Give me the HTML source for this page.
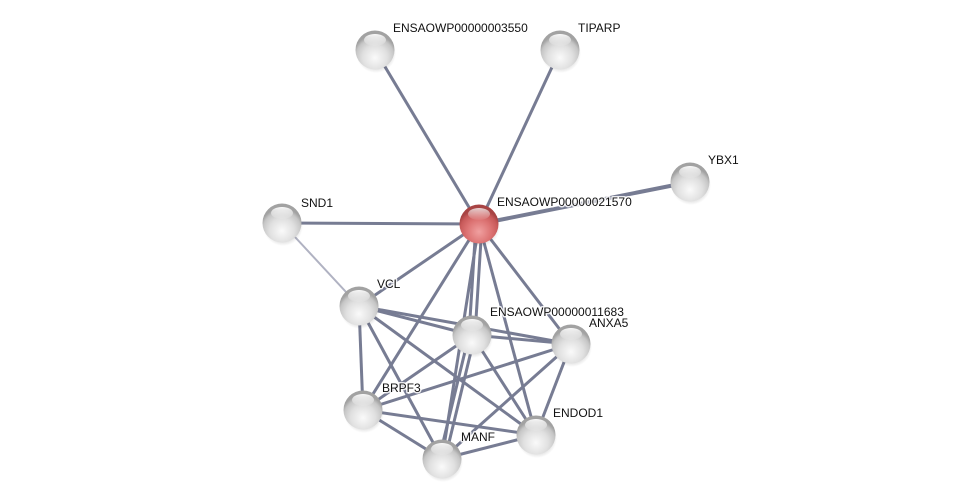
<!DOCTYPE html>
<html><head><meta charset="utf-8"><style>
html,body{margin:0;padding:0;background:#fff;}
svg{display:block;}
text{font-family:"Liberation Sans",Arial,sans-serif;font-size:12px;fill:#111;stroke:#fff;stroke-width:3px;stroke-opacity:0.85;paint-order:stroke;stroke-linejoin:round;}
</style></head><body>
<svg width="976" height="504" viewBox="0 0 976 504" xmlns="http://www.w3.org/2000/svg">
<defs>
<radialGradient id="g" cx="50%" cy="70%" r="58%">
<stop offset="0%" stop-color="#fafafa"/>
<stop offset="55%" stop-color="#e0e0e0"/>
<stop offset="85%" stop-color="#c6c6c6"/>
<stop offset="100%" stop-color="#a2a2a2"/>
</radialGradient>
<radialGradient id="r" cx="50%" cy="70%" r="58%">
<stop offset="0%" stop-color="#f0a0a0"/>
<stop offset="55%" stop-color="#dc7272"/>
<stop offset="85%" stop-color="#c85a5a"/>
<stop offset="100%" stop-color="#a84444"/>
</radialGradient>
<linearGradient id="h" x1="0" y1="0" x2="0" y2="1">
<stop offset="0%" stop-color="#fff" stop-opacity="0.95"/>
<stop offset="100%" stop-color="#fff" stop-opacity="0.05"/>
</linearGradient>
<radialGradient id="sh" cx="50%" cy="50%" r="50%">
<stop offset="70%" stop-color="#000" stop-opacity="0.15"/>
<stop offset="100%" stop-color="#000" stop-opacity="0"/>
</radialGradient>
</defs>
<g stroke="#777c93" stroke-width="3" stroke-linecap="butt">
<line x1="479" y1="224" x2="375" y2="50"/>
<line x1="479" y1="224" x2="560" y2="50"/>
<line x1="479" y1="224" x2="690" y2="182" stroke-width="4"/>
<line x1="479" y1="224" x2="282" y2="223"/>
<line x1="479" y1="224" x2="359" y2="306"/>
<line x1="476" y1="224" x2="469" y2="335"/>
<line x1="482" y1="224" x2="475" y2="335"/>
<line x1="479" y1="224" x2="571" y2="344"/>
<line x1="479" y1="224" x2="363" y2="410"/>
<line x1="479" y1="224" x2="536" y2="435"/>
<line x1="479" y1="224" x2="442" y2="459"/>
<line x1="359" y1="306" x2="472" y2="335"/>
<line x1="359" y1="306" x2="571" y2="344"/>
<line x1="359" y1="306" x2="363" y2="410"/>
<line x1="359" y1="306" x2="442" y2="459"/>
<line x1="359" y1="306" x2="536" y2="435"/>
<line x1="472" y1="335" x2="571" y2="344"/>
<line x1="472" y1="335" x2="363" y2="410"/>
<line x1="469" y1="335" x2="439" y2="459"/>
<line x1="475" y1="335" x2="445" y2="459"/>
<line x1="472" y1="335" x2="536" y2="435"/>
<line x1="571" y1="344" x2="363" y2="410"/>
<line x1="571" y1="344" x2="442" y2="459"/>
<line x1="571" y1="344" x2="536" y2="435"/>
<line x1="363" y1="410" x2="442" y2="459"/>
<line x1="363" y1="410" x2="536" y2="435"/>
<line x1="442" y1="459" x2="536" y2="435"/>
</g>
<line x1="282" y1="223" x2="359" y2="306" stroke="#b0b2c2" stroke-width="2"/>
<g>
<g transform="translate(375,50)"><circle cx="1" cy="3" r="20" fill="url(#sh)"/><circle r="19.5" fill="url(#g)"/><ellipse cx="0" cy="-10" rx="11" ry="6" fill="url(#h)"/></g>
<g transform="translate(560,50)"><circle cx="1" cy="3" r="20" fill="url(#sh)"/><circle r="19.5" fill="url(#g)"/><ellipse cx="0" cy="-10" rx="11" ry="6" fill="url(#h)"/></g>
<g transform="translate(690,182)"><circle cx="1" cy="3" r="20" fill="url(#sh)"/><circle r="19.5" fill="url(#g)"/><ellipse cx="0" cy="-10" rx="11" ry="6" fill="url(#h)"/></g>
<g transform="translate(282,223)"><circle cx="1" cy="3" r="20" fill="url(#sh)"/><circle r="19.5" fill="url(#g)"/><ellipse cx="0" cy="-10" rx="11" ry="6" fill="url(#h)"/></g>
<g transform="translate(479,224)"><circle cx="1" cy="3" r="20" fill="url(#sh)"/><circle r="19.5" fill="url(#r)"/><ellipse cx="0" cy="-10" rx="11" ry="6" fill="url(#h)" opacity="0.8"/></g>
<g transform="translate(359,306)"><circle cx="1" cy="3" r="20" fill="url(#sh)"/><circle r="19.5" fill="url(#g)"/><ellipse cx="0" cy="-10" rx="11" ry="6" fill="url(#h)"/></g>
<g transform="translate(472,335)"><circle cx="1" cy="3" r="20" fill="url(#sh)"/><circle r="19.5" fill="url(#g)"/><ellipse cx="0" cy="-10" rx="11" ry="6" fill="url(#h)"/></g>
<g transform="translate(571,344)"><circle cx="1" cy="3" r="20" fill="url(#sh)"/><circle r="19.5" fill="url(#g)"/><ellipse cx="0" cy="-10" rx="11" ry="6" fill="url(#h)"/></g>
<g transform="translate(363,410)"><circle cx="1" cy="3" r="20" fill="url(#sh)"/><circle r="19.5" fill="url(#g)"/><ellipse cx="0" cy="-10" rx="11" ry="6" fill="url(#h)"/></g>
<g transform="translate(536,435)"><circle cx="1" cy="3" r="20" fill="url(#sh)"/><circle r="19.5" fill="url(#g)"/><ellipse cx="0" cy="-10" rx="11" ry="6" fill="url(#h)"/></g>
<g transform="translate(442,459)"><circle cx="1" cy="3" r="20" fill="url(#sh)"/><circle r="19.5" fill="url(#g)"/><ellipse cx="0" cy="-10" rx="11" ry="6" fill="url(#h)"/></g>
</g>
<text x="393" y="32">ENSAOWP00000003550</text>
<text x="578" y="32">TIPARP</text>
<text x="708" y="164">YBX1</text>
<text x="497" y="206">ENSAOWP00000021570</text>
<text x="301" y="207">SND1</text>
<text x="377" y="288">VCL</text>
<text x="490" y="316">ENSAOWP00000011683</text>
<text x="589" y="327">ANXA5</text>
<text x="382" y="392">BRPF3</text>
<text x="553" y="417">ENDOD1</text>
<text x="461" y="441">MANF</text>
</svg>
</body></html>
